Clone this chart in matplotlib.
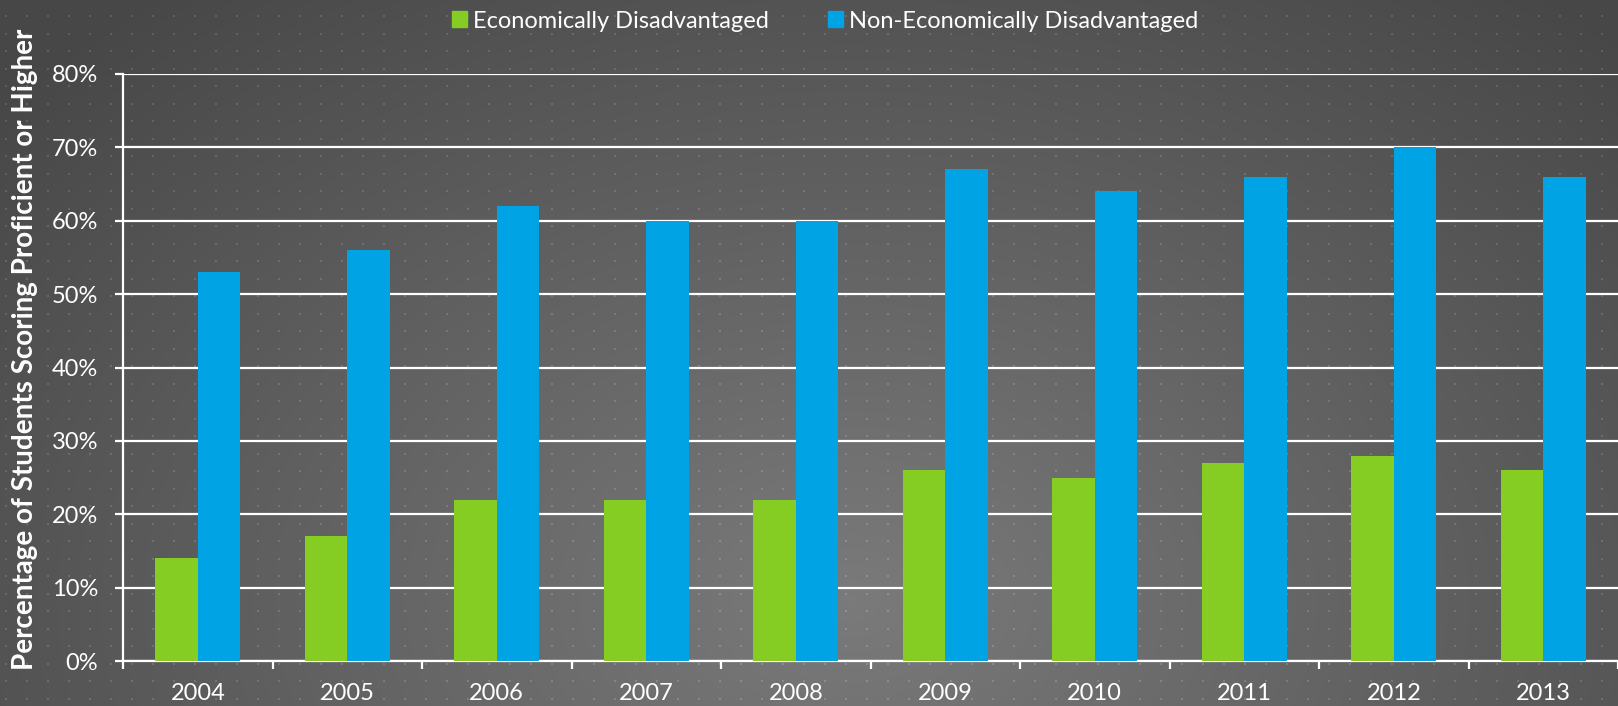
import numpy as np
import matplotlib
matplotlib.use("Agg")
from matplotlib import pyplot as plt
from matplotlib.patches import Patch

plt.rcParams["font.family"] = ["Lato", "DejaVu Sans"]

years = ["2004", "2005", "2006", "2007", "2008", "2009", "2010", "2011", "2012", "2013"]
econ_disadv = [14, 17, 22, 22, 22, 26, 25, 27, 28, 26]
non_econ_disadv = [53, 56, 62, 60, 60, 67, 64, 66, 70, 66]

GREEN = "#86cd23"
BLUE = "#00a3e3"
W, H = 1618, 706


def make_background():
    yy, xx = np.mgrid[0:H, 0:W].astype(float)
    # radial gradient, lighter toward lower middle
    r = np.sqrt(((xx - 850) / 1000) ** 2 + ((yy - 600) / 700) ** 2)
    val = 0.48 - 0.18 * np.clip(r, 0, 1.1)
    # dot pattern
    dots = ((xx.astype(int) - 5) % 21 < 2) & ((yy.astype(int) - 15) % 17.5 < 2)
    val = np.where(dots, val + 0.09, val)
    return np.dstack([val, val, val])


def main():
    fig = plt.figure(figsize=(W / 100, H / 100), dpi=100)
    fig.figimage(make_background(), 0, 0, origin="upper", zorder=-1)

    ax = fig.add_axes([123 / W, 45 / H, (W - 123) / W, 587 / H])
    ax.set_zorder(2)
    ax.set_facecolor("none")

    x = np.arange(len(years))
    bw = 0.285
    ax.bar(x - bw / 2, econ_disadv, bw, color=GREEN, zorder=3)
    ax.bar(x + bw / 2, non_econ_disadv, bw, color=BLUE, zorder=3)

    ax.set_xlim(-0.5, -0.5 + (W - 123) / 151)
    ax.set_ylim(0, 80)
    ax.set_yticks(range(0, 81, 10))
    ax.set_yticklabels([f"{v}%" for v in range(0, 81, 10)])
    ax.set_xticks(x)
    ax.set_xticklabels(years)
    ax.set_xticks(np.arange(-0.5, len(years), 1), minor=True)

    ax.grid(axis="y", color="white", linewidth=1.6, zorder=1)
    ax.set_axisbelow(True)
    for s in ["top", "right"]:
        ax.spines[s].set_visible(False)
    for s in ["left", "bottom"]:
        ax.spines[s].set_color("white")
        ax.spines[s].set_linewidth(1.6)

    ax.tick_params(axis="x", which="major", length=0, pad=16, labelsize=17, labelcolor="white")
    ax.tick_params(axis="x", which="minor", length=5.5, width=1.6, color="white")
    ax.tick_params(axis="y", length=6, width=1.6, color="white", pad=12, labelsize=17, labelcolor="white")

    fig.text(25 / W, 1 - 349 / H, "Percentage of Students Scoring Proficient or Higher",
             rotation=90, ha="center", va="center", color="white",
             fontsize=20, fontweight="bold")

    handles = [Patch(color=GREEN, label="Economically Disadvantaged"),
               Patch(color=BLUE, label="Non-Economically Disadvantaged")]
    fig.legend(handles=handles, loc="center", bbox_to_anchor=(0.510, 1 - 21 / H), ncol=2,
               frameon=False, fontsize=17, labelcolor="white", handlelength=0.64,
               handleheight=0.64, handletextpad=0.25, columnspacing=2.5,
               borderpad=0, borderaxespad=0)

    fig.savefig("out.png", dpi=100)


if __name__ == "__main__":
    main()
